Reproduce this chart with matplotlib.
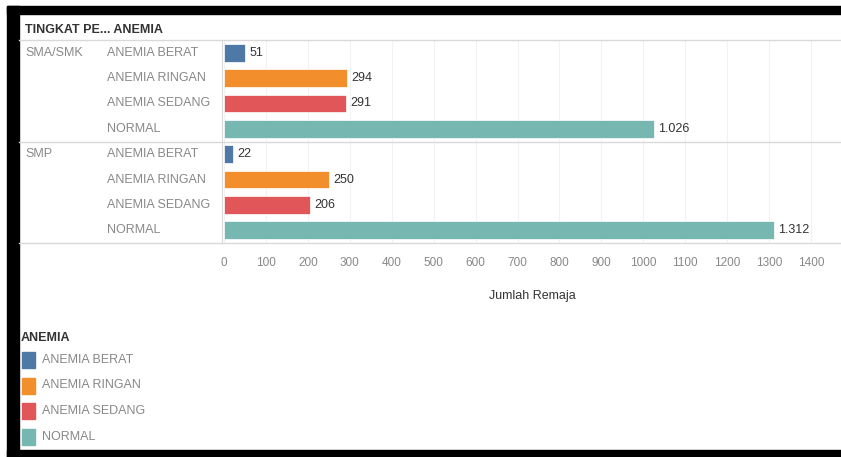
import matplotlib
matplotlib.use('Agg')
import matplotlib.pyplot as plt
from matplotlib.transforms import blended_transform_factory
from matplotlib.patches import Rectangle

plt.rcParams['font.family'] = ['Liberation Sans Narrow', 'Liberation Sans', 'DejaVu Sans']

groups = ['SMA/SMK', 'SMP']
anemia = ['ANEMIA BERAT', 'ANEMIA RINGAN', 'ANEMIA SEDANG', 'NORMAL']
sma_values = [51, 294, 291, 1026]
smp_values = [22, 250, 206, 1312]
value_labels = ['51', '294', '291', '1.026', '22', '250', '206', '1.312']
colors = ['#4e79a7', '#f28e2b', '#e15759', '#76b7b2']
xticks = list(range(0, 1500, 100))

W, H = 841, 457
fig = plt.figure(figsize=(W / 100, H / 100), dpi=100)

def fx(px):
    return px / W

def fy(py):
    return 1 - py / H

# black frame
fig.patches.append(Rectangle((fx(7), fy(14)), fx(841 - 7), fy(6) - fy(14), transform=fig.transFigure, color='black'))
fig.patches.append(Rectangle((fx(7), fy(457)), fx(19 - 7), fy(6) - fy(457), transform=fig.transFigure, color='black'))
fig.patches.append(Rectangle((fx(7), fy(457)), fx(841 - 7), fy(450) - fy(457), transform=fig.transFigure, color='black'))

# plot pane
x0, x1 = 224, 841
y0, y1 = 40, 243
xmax = 1400 * (x1 - x0) / (811 - x0)
ax = fig.add_axes([fx(x0), fy(y1), fx(x1 - x0), fy(y0) - fy(y1)])
ax.set_xlim(0, xmax)
ax.set_ylim(7.5, -0.5)
for s in ax.spines.values():
    s.set_visible(False)
ax.set_xticks([])
ax.set_yticks([])

for t in xticks:
    ax.axvline(t, color='#f2f2f2', lw=0.8, zorder=0)

values = sma_values + smp_values
for i, v in enumerate(values):
    ax.barh(i, v, height=0.7, color=colors[i % 4], edgecolor='white', linewidth=0.5, zorder=2)
    ax.text(v + 10, i, value_labels[i], va='center', ha='left', fontsize=9, color='#333333')

# separators
sep_color = '#d9d9d9'
for py in [40, 142, 243]:
    fig.add_artist(plt.Line2D([fx(19), 1], [fy(py), fy(py)], transform=fig.transFigure, color=sep_color, lw=1))
fig.add_artist(plt.Line2D([fx(222), fx(222)], [fy(40), fy(243)], transform=fig.transFigure, color=sep_color, lw=0.8))

# headers
fig.text(fx(25), fy(30), 'TINGKAT PE... ANEMIA', fontsize=9, color='#333333', va='center', ha='left', fontweight='bold')

tr = blended_transform_factory(fig.transFigure, ax.transData)
for g, grp in enumerate(groups):
    fig.text(fx(25), 0, grp, transform=tr, fontsize=9, color='#888888', va='center', ha='left').set_y(g * 4)
    for j, a in enumerate(anemia):
        fig.text(fx(107), 0, a, transform=tr, fontsize=9, color='#888888', va='center', ha='left').set_y(g * 4 + j)

# x tick labels
trx = blended_transform_factory(ax.transData, fig.transFigure)
for t in xticks:
    fig.text(t, fy(263), str(t), transform=trx, ha='center', va='center', fontsize=8.5, color='#888888')
fig.text(fx(532), fy(296), 'Jumlah Remaja', ha='center', va='center', fontsize=9, color='#333333')

# legend
fig.text(fx(21), fy(338), 'ANEMIA', fontsize=9, color='#333333', va='center', ha='left', fontweight='bold')
for k, a in enumerate(anemia):
    cy = 360 + k * 25.5
    fig.patches.append(Rectangle((fx(22), fy(cy + 8)), fx(13), fy(cy - 8) - fy(cy + 8), transform=fig.transFigure, color=colors[k]))
    fig.text(fx(42), fy(cy), a, fontsize=9, color='#888888', va='center', ha='left')

fig.savefig('out.png', dpi=100)
